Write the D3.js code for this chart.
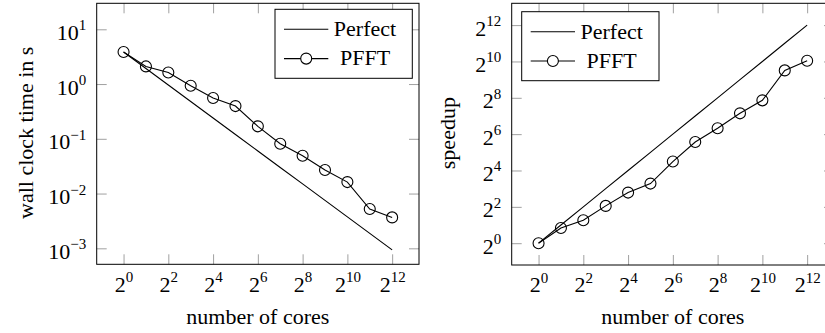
<!DOCTYPE html>
<html>
<head>
<meta charset="utf-8">
<script src="https://cdn.jsdelivr.net/npm/d3@7"></script>
<style>
html,body{margin:0;padding:0;background:#fff;}
svg{display:block;}
svg text{font-family:'Liberation Serif','Times New Roman',serif !important;}
</style>
</head>
<body>
<svg id="chart" width="825" height="333"></svg>
<script>
// ---- data ----
const cores = [1, 2, 4, 8, 16, 32, 64, 128, 256, 512, 1024, 2048, 4096];
const perfectTime = [3.84, 1.92, 0.96, 0.48, 0.24, 0.12, 0.06, 0.03, 0.015, 0.0075, 0.00375, 0.001875, 0.0009375];
const pfftTime = [3.84, 2.10, 1.63, 0.93, 0.555, 0.396, 0.169, 0.0813, 0.0491, 0.0269, 0.0162, 0.00521, 0.00367];
const perfectSpeedup = [1, 2, 4, 8, 16, 32, 64, 128, 256, 512, 1024, 2048, 4096];
const pfftSpeedup = [1, 1.79, 2.40, 4.15, 6.89, 9.71, 22.5, 47.5, 80.0, 141.6, 232.3, 728.6, 1052];
const xTickExps = [0, 2, 4, 6, 8, 10, 12];
const timeTickExps = [-3, -2, -1, 0, 1];
const speedupTickExps = [0, 2, 4, 6, 8, 10, 12];
const seriesNames = ["Perfect", "PFFT"];
const xLabel = "number of cores";
const timeLabel = "wall clock time in s";
const speedupLabel = "speedup";

const FONT = "'Liberation Serif','Times New Roman',serif";
const FS = 22, SUP = 15;
const svg = d3.select("#chart");

function supLabel(sel, base, exp) {
  sel.text(null);
  sel.append("tspan").text(base);
  sel.append("tspan").attr("font-size", SUP).attr("dy", -9.5)
     .text(exp < 0 ? "\u2212" + (-exp) : String(exp));
}

function panel(opt) {
  const {left, right, top, bottom, x, y, xT, yT, yBase, yLab, yLabX, legend, xs, ys} = opt;
  const g = svg.append("g");
  const tickCol = "#a0a0a0";
  // bottom axis
  const bx = g.append("g").attr("transform", `translate(0,${bottom})`)
    .call(d3.axisBottom(x).tickValues(xT.map(e => Math.pow(2, e))).tickSizeInner(-10).tickSizeOuter(0));
  bx.select(".domain").remove();
  bx.selectAll(".tick line").attr("stroke", tickCol);
  bx.selectAll(".tick text").attr("y", 27.4).attr("dy", 0).attr("fill", "#000")
    .each(function(d, i) { supLabel(d3.select(this), "2", xT[i]); });
  // top axis (mirrored ticks)
  const tx = g.append("g").attr("transform", `translate(0,${top})`)
    .call(d3.axisTop(x).tickValues(xT.map(e => Math.pow(2, e))).tickSizeInner(-10).tickSizeOuter(0).tickFormat(""));
  tx.select(".domain").remove();
  tx.selectAll(".tick line").attr("stroke", tickCol);
  // left axis
  const ly = g.append("g").attr("transform", `translate(${left},0)`)
    .call(d3.axisLeft(y).tickValues(yT.map(e => Math.pow(yBase, e))).tickSizeInner(-10).tickSizeOuter(0));
  ly.select(".domain").remove();
  ly.selectAll(".tick line").attr("stroke", tickCol);
  ly.selectAll(".tick text").attr("x", -10.5).attr("dy", 0).attr("y", 10).attr("fill", "#000")
    .each(function(d, i) { supLabel(d3.select(this), String(yBase), yT[i]); });
  // right axis (mirrored)
  const ry = g.append("g").attr("transform", `translate(${right},0)`)
    .call(d3.axisRight(y).tickValues(yT.map(e => Math.pow(yBase, e))).tickSizeInner(-10).tickSizeOuter(0).tickFormat(""));
  ry.select(".domain").remove();
  ry.selectAll(".tick line").attr("stroke", tickCol);
  g.selectAll("g.tick").select("text").attr("font-family", FONT).attr("font-size", FS);
  [bx, tx, ly, ry].forEach(a => a.attr("font-family", FONT).attr("font-size", FS));

  // frame
  g.append("rect").attr("x", left).attr("y", top).attr("width", right - left).attr("height", bottom - top)
    .attr("fill", "none").attr("stroke", "#000").attr("stroke-width", 1);

  const line = d3.line().x((d, i) => x(cores[i])).y(d => y(d));
  g.append("path").datum(xs).attr("d", line).attr("fill", "none").attr("stroke", "#000").attr("stroke-width", 1.1);
  g.append("path").datum(ys).attr("d", line).attr("fill", "none").attr("stroke", "#000").attr("stroke-width", 1.1);
  g.selectAll("circle.m").data(ys).join("circle").attr("class", "m")
    .attr("cx", (d, i) => x(cores[i])).attr("cy", d => y(d)).attr("r", 5.5)
    .attr("fill", "none").attr("stroke", "#000").attr("stroke-width", 1.1);

  // axis labels
  g.append("text").attr("x", (left + right) / 2).attr("y", 323.5).attr("text-anchor", "middle")
    .attr("font-family", FONT).attr("font-size", FS).text(xLabel);
  g.append("text").attr("transform", `translate(${yLabX},${(top + bottom) / 2 - 1}) rotate(-90)`)
    .attr("text-anchor", "middle").attr("font-family", FONT).attr("font-size", FS).text(yLab);

  // legend
  const L = legend;
  g.append("rect").attr("x", L.x).attr("y", L.y).attr("width", 137.3).attr("height", 69)
    .attr("fill", "#fff").attr("stroke", "#000").attr("stroke-width", 1);
  seriesNames.forEach((name, i) => {
    const ry0 = L.y + 20 + i * 29.3;
    g.append("line").attr("x1", L.x + 9).attr("x2", L.x + 53.3).attr("y1", ry0).attr("y2", ry0)
      .attr("stroke", "#000").attr("stroke-width", 1.1);
    if (i === 1) {
      g.append("circle").attr("cx", L.x + 31.2).attr("cy", ry0).attr("r", 5.5)
        .attr("fill", "#fff").attr("stroke", "#000").attr("stroke-width", 1.1);
    }
    g.append("text").attr("x", L.x + 90).attr("y", ry0 + 6.8).attr("text-anchor", "middle")
      .attr("font-family", FONT).attr("font-size", FS).text(name);
  });
}

// left panel: time
{
  const left = 96.7, right = 419, top = 3.3, bottom = 264.3;
  const x = d3.scaleLog().base(2).domain([Math.pow(2, -1.2), Math.pow(2, 13.2)]).range([left, right]);
  const y = d3.scaleLog().domain([Math.pow(10, -3.292), Math.pow(10, 1.475)]).range([bottom, top]);
  panel({left, right, top, bottom, x, y, xT: xTickExps, yT: timeTickExps, yBase: 10,
         yLab: timeLabel, yLabX: 32.5, legend: {x: 275, y: 9.3}, xs: perfectTime, ys: pfftTime});
}
// right panel: speedup
{
  const left = 511.7, right = 834, top = 3.3, bottom = 265;
  const x = d3.scaleLog().base(2).domain([Math.pow(2, -1.2), Math.pow(2, 13.2)]).range([left, right]);
  const y = d3.scaleLog().base(2).domain([Math.pow(2, -1.2), Math.pow(2, 13.2)]).range([bottom, top]);
  panel({left, right, top, bottom, x, y, xT: xTickExps, yT: speedupTickExps, yBase: 2,
         yLab: speedupLabel, yLabX: 455, legend: {x: 521.7, y: 11.7}, xs: perfectSpeedup, ys: pfftSpeedup});
}
</script>
</body>
</html>
